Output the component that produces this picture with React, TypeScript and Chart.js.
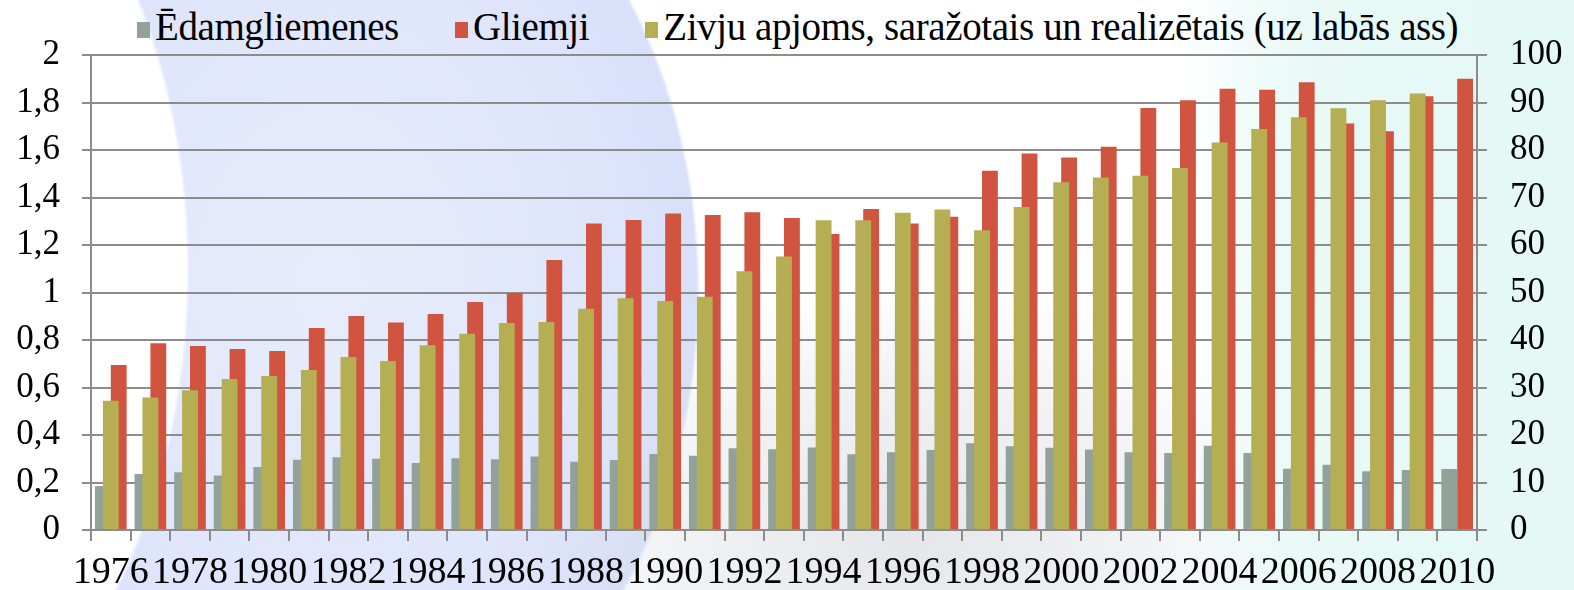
import { useEffect, useRef } from 'react';
import { Chart, registerables } from 'chart.js';

Chart.register(...registerables);

const years = [
  '1976', '1977', '1978', '1979', '1980', '1981', '1982', '1983', '1984', '1985',
  '1986', '1987', '1988', '1989', '1990', '1991', '1992', '1993', '1994', '1995',
  '1996', '1997', '1998', '1999', '2000', '2001', '2002', '2003', '2004', '2005',
  '2006', '2007', '2008', '2009', '2010',
];

// Ēdamgliemenes (left axis)
const edamgliemenes = [
  0.185, 0.236, 0.243, 0.23, 0.265, 0.296, 0.306, 0.3, 0.282, 0.302,
  0.298, 0.31, 0.287, 0.295, 0.32, 0.313, 0.344, 0.34, 0.347, 0.319,
  0.327, 0.337, 0.365, 0.353, 0.346, 0.339, 0.327, 0.324, 0.355, 0.324,
  0.258, 0.275, 0.247, 0.253, 0.257,
];

// Gliemji (left axis)
const gliemji = [
  0.695, 0.786, 0.775, 0.762, 0.754, 0.851, 0.901, 0.874, 0.909, 0.96,
  0.998, 1.137, 1.291, 1.305, 1.333, 1.326, 1.338, 1.314, 1.246, 1.352,
  1.291, 1.319, 1.513, 1.585, 1.568, 1.614, 1.777, 1.809, 1.858, 1.854,
  1.885, 1.712, 1.679, 1.826, 1.9,
];

// Zivju apjoms (right axis)
const zivju = [
  27.2, 27.9, 29.4, 31.8, 32.4, 33.7, 36.4, 35.6, 38.9, 41.3,
  43.6, 43.8, 46.6, 48.8, 48.2, 49.1, 54.5, 57.6, 65.2, 65.2,
  66.8, 67.5, 63.1, 68.0, 73.2, 74.2, 74.6, 76.2, 81.6, 84.4,
  86.9, 88.8, 90.5, 91.9, null,
];

const leftTicks = ['0', '0,2', '0,4', '0,6', '0,8', '1', '1,2', '1,4', '1,6', '1,8', '2'];
const rightTicks = ['0', '10', '20', '30', '40', '50', '60', '70', '80', '90', '100'];

const seriesNames = [
  'Ēdamgliemenes',
  'Gliemji',
  'Zivju apjoms, saražotais un realizētais (uz labās ass)',
];
const seriesColors = ['#93A299', '#D0543F', '#B5AE53'];

const FONT = "'Liberation Serif', 'Times New Roman', serif";
const GRID = '#8c8c8c';

export default function App() {
  const ref = useRef<HTMLCanvasElement>(null);

  useEffect(() => {
    document.body.style.margin = '0';
    const canvas = ref.current;
    if (!canvas) return;
    const chart = new Chart(canvas, {
      type: 'bar',
      data: {
        labels: years,
        datasets: [
          {
            label: seriesNames[0],
            data: edamgliemenes,
            backgroundColor: seriesColors[0],
            yAxisID: 'y',
            order: 2,
            categoryPercentage: 0.8,
            barPercentage: 1,
            borderWidth: 0,
          },
          {
            label: seriesNames[1],
            data: gliemji,
            backgroundColor: seriesColors[1],
            yAxisID: 'y',
            order: 2,
            categoryPercentage: 0.8,
            barPercentage: 1,
            borderWidth: 0,
          },
          {
            label: seriesNames[2],
            data: zivju,
            backgroundColor: seriesColors[2],
            yAxisID: 'y1',
            order: 1,
            grouped: false,
            categoryPercentage: 0.4,
            barPercentage: 1,
            borderWidth: 0,
          },
        ],
      },
      options: {
        responsive: false,
        animation: false,
        layout: { padding: { top: 55, left: 0, right: 0, bottom: 0 } },
        plugins: {
          legend: { display: false },
          tooltip: { enabled: false },
        },
        scales: {
          x: {
            type: 'category',
            offset: true,
            grid: {
              offset: true,
              drawOnChartArea: false,
              drawTicks: true,
              tickLength: 11,
              color: GRID,
              lineWidth: 2,
            },
            border: { display: true, color: GRID, width: 2 },
            ticks: {
              autoSkip: false,
              maxRotation: 0,
              minRotation: 0,
              padding: 9,
              color: '#000',
              font: { family: FONT, size: 38 },
              callback: (_v: any, i: number) => (i % 2 === 0 ? years[i] : ''),
            },
            afterFit: (s: any) => {
              s.height = 60;
            },
          },
          y: {
            position: 'left',
            min: 0,
            max: 2,
            ticks: {
              stepSize: 0.2,
              padding: 22,
              color: '#000',
              font: { family: FONT, size: 35 },
              callback: (v: any) => leftTicks[Math.round(Number(v) / 0.2)],
            },
            grid: { color: GRID, lineWidth: 2, tickLength: 9, drawTicks: true },
            border: { display: true, color: GRID, width: 2 },
            afterFit: (s: any) => {
              s.width = 91;
            },
          },
          y1: {
            position: 'right',
            min: 0,
            max: 100,
            ticks: {
              stepSize: 10,
              padding: 23,
              color: '#000',
              font: { family: FONT, size: 35 },
              callback: (v: any) => rightTicks[Math.round(Number(v) / 10)],
            },
            grid: { drawOnChartArea: false, color: GRID, lineWidth: 2, tickLength: 10, drawTicks: true },
            border: { display: true, color: GRID, width: 2 },
            afterFit: (s: any) => {
              s.width = 97;
            },
          },
        },
      },
    } as any);
    return () => chart.destroy();
  }, []);

  const background = [
    'radial-gradient(ellipse 400px 560px at -210px 270px, #ffffff 99%, rgba(255,255,255,0) 100%)',
    'radial-gradient(ellipse 380px 260px at 910px 540px, rgba(208,210,218,0.55) 0%, rgba(220,222,228,0.4) 60%, rgba(255,255,255,0) 100%)',
    'radial-gradient(ellipse 370px 500px at 330px 290px, #e7ecfc 0%, #e1e7fb 60%, #d8e0fa 99%, rgba(255,255,255,0) 100%)',
    'linear-gradient(90deg, #ffffff 0px, #ffffff 1180px, #e9faf7 1290px, #e3f8f5 1574px)',
  ].join(', ');

  return (
    <div
      style={{
        position: 'relative',
        width: 1574,
        height: 590,
        overflow: 'hidden',
        background,
      }}
    >
      <div
        style={{
          position: 'absolute',
          left: 137,
          top: 7,
          display: 'flex',
          alignItems: 'flex-start',
          fontFamily: FONT,
          fontSize: 39,
          lineHeight: '39px',
          letterSpacing: '-0.4px',
          color: '#000',
          whiteSpace: 'nowrap',
        }}
      >
        {seriesNames.map((name, i) => (
          <div key={name} style={{ display: 'flex', alignItems: 'flex-start', marginRight: 56 }}>
            <span
              style={{
                display: 'inline-block',
                width: 13,
                height: 16,
                marginTop: 15,
                marginRight: 5,
                background: seriesColors[i],
              }}
            />
            <span>{name}</span>
          </div>
        ))}
      </div>
      <canvas
        ref={ref}
        width={1574}
        height={590}
        style={{ position: 'absolute', left: 0, top: 0, display: 'block' }}
      />
    </div>
  );
}
